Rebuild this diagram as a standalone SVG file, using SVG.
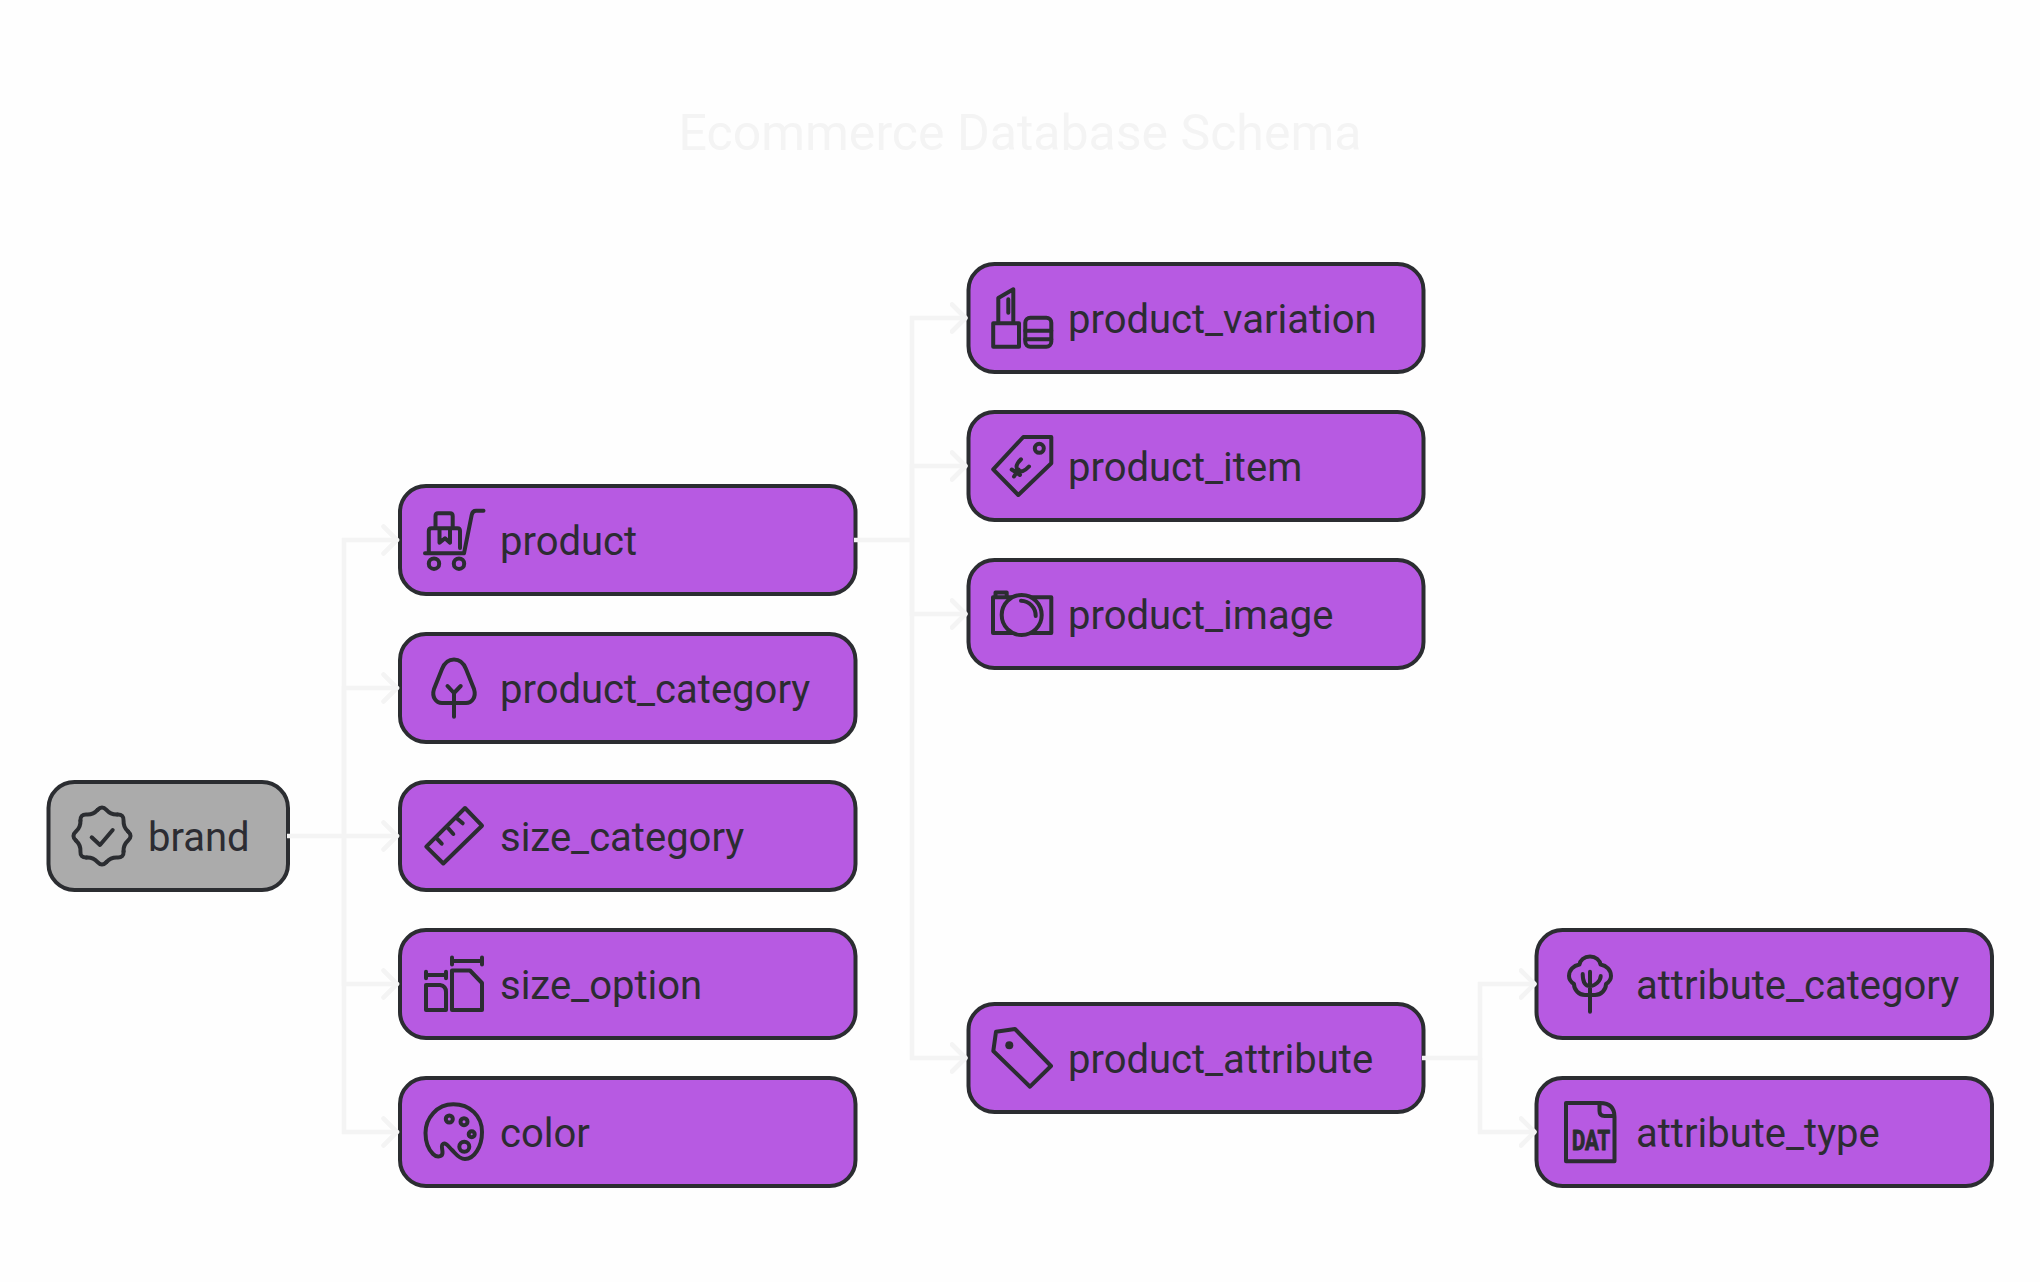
<svg xmlns="http://www.w3.org/2000/svg" width="2040" height="1282" viewBox="0 0 2040 1282">
<style>
.box{fill:#b75ae2;stroke:#2b2d31;stroke-width:4}
.gray{fill:#ababab}
.lbl{font-family:Roboto,"Liberation Sans",sans-serif;font-size:40px;fill:#2c2c32}
.ic{fill:none;stroke:#2b2d31;stroke-width:4;stroke-linecap:round;stroke-linejoin:round}
.conn{fill:none;stroke:#f4f4f4;stroke-width:4.6;stroke-linejoin:miter}
.arr{fill:none;stroke:#f4f4f4;stroke-width:4.6;stroke-linecap:round;stroke-linejoin:round}
.title{font-family:Roboto,"Liberation Sans",sans-serif;font-size:50px;fill:#f4f4f4;text-anchor:middle}
</style>
<defs>
<marker id="ah" markerUnits="userSpaceOnUse" markerWidth="24" markerHeight="36" refX="17" refY="16" orient="auto">
<path d="M2.5 2.5L16 16L2.5 29.5" class="arr"/>
</marker>
<path id="lobe" d="M-4.4 -26.1Q0 -31 4.4 -26.1Q8.8 -21.2 15.34 -21.57"/>
</defs>
<rect width="2040" height="1282" fill="#fefefe"/>
<text class="title" x="1020" y="150">Ecommerce Database Schema</text>

<g id="n-brand">
<rect class="box gray" x="48.5" y="782" width="239.5" height="108" rx="26"/>
<g class="ic" transform="translate(102 836)">
<use href="#lobe"/><use href="#lobe" transform="rotate(45)"/><use href="#lobe" transform="rotate(90)"/><use href="#lobe" transform="rotate(135)"/><use href="#lobe" transform="rotate(180)"/><use href="#lobe" transform="rotate(225)"/><use href="#lobe" transform="rotate(270)"/><use href="#lobe" transform="rotate(315)"/>
</g>
<path class="ic" d="M91.7 837.3L100 845L112.7 830"/>
<text class="lbl" x="148" y="850.6">brand</text>
</g>

<g id="n-product">
<rect class="box" x="400" y="486" width="455.5" height="108" rx="26"/>
<path class="ic" d="M483.5 510.7H476Q472.5 510.7 471.7 515L464 553.3M425 553.3H464M428.8 553.3V531Q428.8 528.3 431.5 528.3H457.5Q460 528.3 460 531V548M435.5 528.3V516Q435.5 513.3 438 513.3H450Q452.7 513.3 452.7 516V528.3M439.5 530V542.7L445 538.3L450 542.7V530"/>
<circle class="ic" cx="434" cy="563.7" r="5.2"/><circle class="ic" cx="459" cy="563.7" r="5.2"/>
<text class="lbl" x="500" y="554.6">product</text>
</g>

<g id="n-product-category">
<rect class="box" x="400" y="634" width="455.5" height="108" rx="26"/>
<path class="ic" d="M454 659.5C461 659.5 464 664 466 669L474 689C476.5 697 472 703 466 703H442C436 703 431.5 697 434 689L442 669C444 664 447 659.5 454 659.5ZM454 693V716.7M447.5 686L454 693L460.7 686"/>
<text class="lbl" x="500" y="702.6">product_category</text>
</g>

<g id="n-size-category">
<rect class="box" x="400" y="782" width="455.5" height="108" rx="26"/>
<path class="ic" d="M465 808L482 825.7L443.3 863.5L426.3 846.7ZM436.7 838.3L441.7 843.7M446.7 826.7L453.3 834M456.7 818.3L462.7 823.3"/>
<text class="lbl" x="500" y="850.6">size_category</text>
</g>

<g id="n-size-option">
<rect class="box" x="400" y="930" width="455.5" height="108" rx="26"/>
<path class="ic" d="M426 975H446M426 971.7V978.3M446 971.7V978.3M452 961H482M452 957.5V964.5M482 957.5V964.5M426 985H440Q446 986 446 992V1010H426ZM452 972V1010H482V983L470 970.5H452Z"/>
<text class="lbl" x="500" y="998.6">size_option</text>
</g>

<g id="n-color">
<rect class="box" x="400" y="1078" width="455.5" height="108" rx="26"/>
<path class="ic" d="M453.3 1104.3C437 1104.3 425.5 1118 425.5 1133C425.5 1142 429 1150 433 1154C437 1158 443 1157 442.5 1152C442 1147 441 1145 443 1144C445.5 1142 448 1146 452 1150C456 1154 459 1159 465 1159C474 1159 482 1147 482 1132C482 1116 470 1104.3 453.3 1104.3Z"/>
<circle class="ic" cx="449.3" cy="1119" r="3.5"/><circle class="ic" cx="464" cy="1121.7" r="3.5"/><circle class="ic" cx="471.7" cy="1134.3" r="3"/><circle class="ic" cx="464.3" cy="1146.7" r="5"/>
<text class="lbl" x="500" y="1146.6">color</text>
</g>

<g id="n-product-variation">
<rect class="box" x="968.5" y="264" width="455" height="108" rx="26"/>
<path class="ic" d="M993.2 323.3H1019V346.8H993.2ZM998.3 321V298L1013.3 289.3V321M1008.3 299.3V312.7"/>
<rect class="ic" x="1025.3" y="317.7" width="26" height="29" rx="5"/>
<path class="ic" d="M1025.3 330.7H1051.3M1025.3 339.3H1051.3"/>
<text class="lbl" x="1068" y="332.6">product_variation</text>
</g>

<g id="n-product-item">
<rect class="box" x="968.5" y="412" width="455" height="108" rx="26"/>
<path class="ic" d="M1023.3 437H1051.3V463.3L1018.3 495L993.2 469.3Z"/>
<circle class="ic" cx="1039.3" cy="448.3" r="4.5"/>
<path class="ic" d="M1021 459.3Q1014 466 1018 470Q1022 474 1029 466.5M1011.7 469.5L1020 475M1014 476.5L1018.5 469.5"/>
<text class="lbl" x="1068" y="480.6">product_item</text>
</g>

<g id="n-product-image">
<rect class="box" x="968.5" y="560" width="455" height="108" rx="26"/>
<path class="ic" d="M993 597.3H1051.3V633H993ZM995.5 597.3V592.5H1006.7V597.3"/>
<circle class="ic" cx="1021.7" cy="615" r="20" style="fill:#b75ae2"/>
<path class="ic" d="M1021 600.7A15 15 0 0 1 1035.7 616"/>
<text class="lbl" x="1068" y="628.6">product_image</text>
</g>

<g id="n-product-attribute">
<rect class="box" x="968.5" y="1004" width="455" height="108" rx="26"/>
<path class="ic" d="M996 1031.7L1015 1029L1051 1066L1030 1086.7L993.3 1051Z"/>
<circle cx="1009.3" cy="1045.3" r="4" fill="#2b2d31"/>
<text class="lbl" x="1068" y="1072.6">product_attribute</text>
</g>

<g id="n-attribute-category">
<rect class="box" x="1536.5" y="930" width="455.5" height="108" rx="26"/>
<path class="ic" d="M1590 956.5C1596 956.5 1600 960.5 1600.5 964.5C1606.5 965.5 1611 970 1611 976C1611 979.5 1609 982 1606 984C1606 990 1601 995 1595 995H1585C1579 995 1574 990 1574 984C1571 982 1569 979.5 1569 976C1569 970 1573.5 965.5 1579.5 964.5C1580 960.5 1584 956.5 1590 956.5ZM1590 971.7V1011.7M1582.7 974C1582.7 981 1585 986 1590 986C1595 986 1600.7 981 1600.7 976"/>
<text class="lbl" x="1636" y="998.6">attribute_category</text>
</g>

<g id="n-attribute-type">
<rect class="box" x="1536.5" y="1078" width="455.5" height="108" rx="26"/>
<path class="ic" d="M1566 1103H1600Q1614.5 1103 1614.5 1117V1161.3H1566ZM1599.5 1103V1111Q1599.5 1116 1604.5 1116H1614.5"/>
<text x="1572" y="1149.5" textLength="38" lengthAdjust="spacingAndGlyphs" style="font-family:Roboto,sans-serif;font-weight:700;font-size:27px;fill:#2b2d31;stroke:#2b2d31;stroke-width:1;stroke-linejoin:round">DAT</text>
<text class="lbl" x="1636" y="1146.6">attribute_type</text>
</g>

<g id="connectors">
<path class="conn" d="M287 836H398" marker-end="url(#ah)"/>
<path class="conn" d="M344 836V540H398" marker-end="url(#ah)"/>
<path class="conn" d="M344 836V688H398" marker-end="url(#ah)"/>
<path class="conn" d="M344 836V984H398" marker-end="url(#ah)"/>
<path class="conn" d="M344 836V1132H398" marker-end="url(#ah)"/>
<path class="conn" d="M854 540H912V318H966.5" marker-end="url(#ah)"/>
<path class="conn" d="M912 540V466H966.5" marker-end="url(#ah)"/>
<path class="conn" d="M912 540V614H966.5" marker-end="url(#ah)"/>
<path class="conn" d="M912 540V1058H966.5" marker-end="url(#ah)"/>
<path class="conn" d="M1422 1058H1480V984H1535.5" marker-end="url(#ah)"/>
<path class="conn" d="M1480 1058V1132H1535.5" marker-end="url(#ah)"/>
</g>
</svg>
